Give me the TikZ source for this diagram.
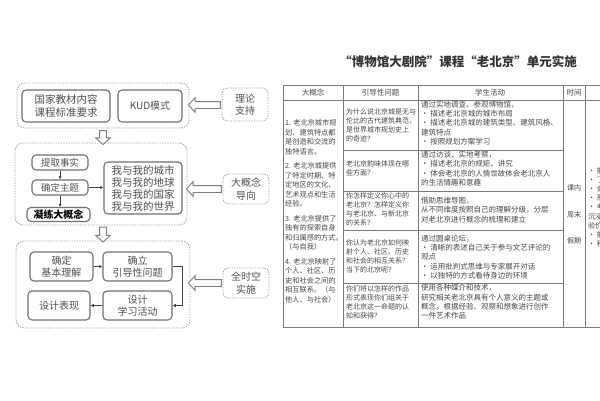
\documentclass[tikz,border=0pt]{standalone}
\usepackage{fontspec}
\setmainfont{Noto Sans CJK SC}
\usetikzlibrary{shapes.arrows,arrows.meta}
\definecolor{txt}{HTML}{505050}
\definecolor{bord}{HTML}{707070}
\definecolor{dotc}{HTML}{A0A0A0}
\definecolor{tl}{HTML}{7A7A7A}
\definecolor{ttxt}{HTML}{474747}
\begin{document}
\begin{tikzpicture}[x=1pt,y=-1pt,
  inbox/.style={draw=bord,line width=1.1pt,rounded corners=4pt,inner sep=1pt,align=center,text=txt,font=\fontsize{10}{12.5}\selectfont},
  outbox/.style={draw=dotc,line width=0.9pt,dash pattern=on 1.3pt off 1.3pt,rounded corners=8pt,inner sep=0pt},
  sidebox/.style={draw=dotc,line width=0.9pt,dash pattern=on 1.3pt off 1.3pt,rounded corners=5pt,inner sep=1pt,align=center,text=txt,font=\fontsize{10}{12.5}\selectfont},
  hollow/.style={single arrow,draw=bord!90,line width=0.9pt,fill=white,inner sep=3pt,single arrow head extend=3.8pt,single arrow tip angle=95,anchor=center},
  conn/.style={draw=black!75,line width=0.8pt,-{Latex[length=3.2pt,width=3.4pt]}},
  tline/.style={draw=tl,line width=0.75pt},
  tcell/.style={anchor=west,align=left,inner sep=0pt,text=ttxt,font=\fontsize{7}{9.1}\selectfont},
  tcellb/.style={anchor=west,align=left,inner sep=0pt,text=ttxt,font=\fontsize{7.5}{9.3}\selectfont},
  thead/.style={anchor=center,inner sep=0pt,text=ttxt,font=\fontsize{7.5}{9}\selectfont}]
\fill[white] (0,0) rectangle (600,400);
\useasboundingbox (0,0) rectangle (600,400);

% ---------- left: block 1
\node[outbox,minimum width=172pt,minimum height=45pt] (o1) at (103,105.5) {};
\node[inbox,minimum width=88pt,minimum height=32pt,font=\fontsize{10.5}{13}\selectfont] (gj) at (66,106) {国家教材内容\\课程标准要求};
\node[inbox,minimum width=64pt,minimum height=32pt] (kud) at (150,106) {KUD模式};
\node[sidebox,minimum width=46pt,minimum height=33pt] (s1) at (245,104.5) {理论\\支持};
\node[hollow,shape border rotate=180,minimum height=32pt] (a1) at (206,105) {};
\node[hollow,shape border rotate=270,minimum height=14pt] (d1) at (103,136) {};

% ---------- block 2
\node[outbox,minimum width=172pt,minimum height=82pt] (o2) at (101,184) {};
\node[inbox,minimum width=56pt,minimum height=15pt,font=\fontsize{9.5}{11}\selectfont] (tq) at (60,162.5) {提取事实};
\node[inbox,minimum width=56pt,minimum height=15pt,font=\fontsize{9.5}{11}\selectfont] (qd) at (60,187.5) {确定主题};
\node[inbox,minimum width=63pt,minimum height=14pt,text=black,font=\fontsize{10}{11}\selectfont\bfseries] (nl) at (58.5,214.5) {凝练大概念};
\node[inbox,minimum width=78pt,minimum height=52pt,font=\fontsize{10.5}{12}\selectfont] (big) at (143,188) {我与我的城市\\我与我的地球\\我与我的国家\\我与我的世界};
\node[sidebox,minimum width=46pt,minimum height=30pt] (s2) at (246,189) {大概念\\导向};
\node[hollow,shape border rotate=180,minimum height=35pt] (a2) at (205.5,189) {};
\node[hollow,shape border rotate=270,minimum height=15pt] (d2) at (103,233) {};
\draw[conn] (tq.south) -- (tq.south |- qd.north);
\draw[conn] (qd.south) -- (qd.south |- nl.north);
\draw[conn] (qd.east) -- (qd.east -| big.west);

% ---------- block 3
\node[outbox,minimum width=174pt,minimum height=87pt] (o3) at (103,284.5) {};
\node[inbox,minimum width=63pt,minimum height=29pt] (jb) at (61.5,266.5) {确定\\基本理解};
\node[inbox,minimum width=69pt,minimum height=29pt] (yd) at (137.5,266.5) {确立\\引导性问题};
\node[inbox,minimum width=62pt,minimum height=29pt] (bx) at (59,305.5) {设计表现};
\node[inbox,minimum width=69pt,minimum height=29pt] (xx) at (137.5,305.5) {设计\\学习活动};
\node[sidebox,minimum width=46pt,minimum height=30pt] (s3) at (246,283) {全时空\\实施};
\node[hollow,shape border rotate=180,minimum height=33pt] (a3) at (206.5,283) {};
\draw[conn] (jb.east) -- (yd.west);
\draw[conn] (yd.east) -- ++(10,0) |- (xx.east);
\draw[conn] (xx.west) -- (bx.east);

% ---------- title
\node[anchor=center,inner sep=0pt,text=black!80,font=\fontsize{12.5}{14}\selectfont\bfseries] (title) at (458,62) {“博物馆大剧院”课程“老北京”单元实施};

% ---------- table
\draw[tline,line width=1pt] (283,85) -- (600,85);
\draw[tline] (283,100) -- (600,100);
\draw[tline,line width=1pt] (283,85) -- (283,327) -- (600,327);
\foreach \xx in {343,418,563,585} \draw[tline] (\xx,85) -- (\xx,327);
\foreach \yy in {150,191,230,283} \draw[tline] (343,\yy) -- (563,\yy);

\node[thead] (h1) at (313,92.5) {大概念};
\node[thead] (h2) at (380.5,92.5) {引导性问题};
\node[thead] (h3) at (490,92.5) {学生活动};
\node[thead] (h4) at (574,92.5) {时间};

\node[tcell,anchor=north west,font=\fontsize{7.2}{9.4}\selectfont] (c1) at (285,119.5) {1. 老北京城市规\\划、建筑特点都\\是创造和交流的\\独特语言。\\[5.5pt]2. 老北京城提供\\了特定时期、特\\定地区的文化、\\艺术观点和生活\\经验。\\[5.5pt]3. 老北京提供了\\独有的探索自身\\和归属感的方式。\\（与自我）\\[5.5pt]4. 老北京映射了\\个人、社区、历\\史和社会之间的\\相互联系。（与\\他人、与社会）};

\node[tcell] (q1) at (346,125) {为什么说北京城是无与\\伦比的古代建筑典范，\\是世界城市规划史上\\的奇迹？};
\node[tcell] (q2) at (346,168) {老北京韵味体现在哪\\些方面？};
\node[tcell] (q3) at (346,209) {你怎样定义你心中的\\老北京？怎样定义你\\与老北京、与新北京\\的关系？};
\node[tcell] (q4) at (346,256) {你认为老北京如何映\\射个人、社区、历史\\和社会的相互关系？\\当下的北京呢？};
\node[tcell] (q5) at (346,302) {你们将以怎样的作品\\形式表现你们组关于\\老北京这一命题的认\\知和获得？};

\node[tcellb] (p1) at (421,123) {通过实地调查、参观博物馆，\\• 描述老北京城的城市布局\\• 描述老北京城的建筑类型、建筑风格、\\建筑特点\\• 按照规划方案学习};
\node[tcellb] (p2) at (421,168.5) {通过访谈、实地考察，\\• 描述老北京的规矩、讲究\\• 体会老北京的人情世故体会老北京人\\的生活情趣和意趣};
\node[tcellb] (p3) at (421,210) {借助思维导图，\\从不同维度按照自己的理解分级，分层\\对老北京进行概念的梳理和建立};
\node[tcellb] (p4) at (421,257) {通过圆桌论坛，\\• 清晰的表述自己关于参与文艺评论的\\观点\\• 运用批判式思维与专家展开对话\\• 以独特的方式看待身边的环境};
\node[tcellb] (p5) at (421,302) {使用各种媒介和技术，\\研究相关老北京具有个人意义的主题或\\概念，根据经验、观察和想象进行创作\\一件艺术作品};

\node[thead,font=\fontsize{7}{9}\selectfont] (t1) at (574,188) {课内};
\node[thead,font=\fontsize{7}{9}\selectfont] (t2) at (574,215) {周末};
\node[thead,font=\fontsize{7}{9}\selectfont] (t3) at (574,241) {假期};

\begin{scope}
\clip (585.5,101) rectangle (600,326);
\node[tcell,anchor=north west,font=\fontsize{7}{9.2}\selectfont] (c5) at (588,167) {• 能\\• 了\\• 会\\• 形\\• 考\\沉浸\\验价\\• 能\\• 积};
\end{scope}
\end{tikzpicture}
\end{document}
